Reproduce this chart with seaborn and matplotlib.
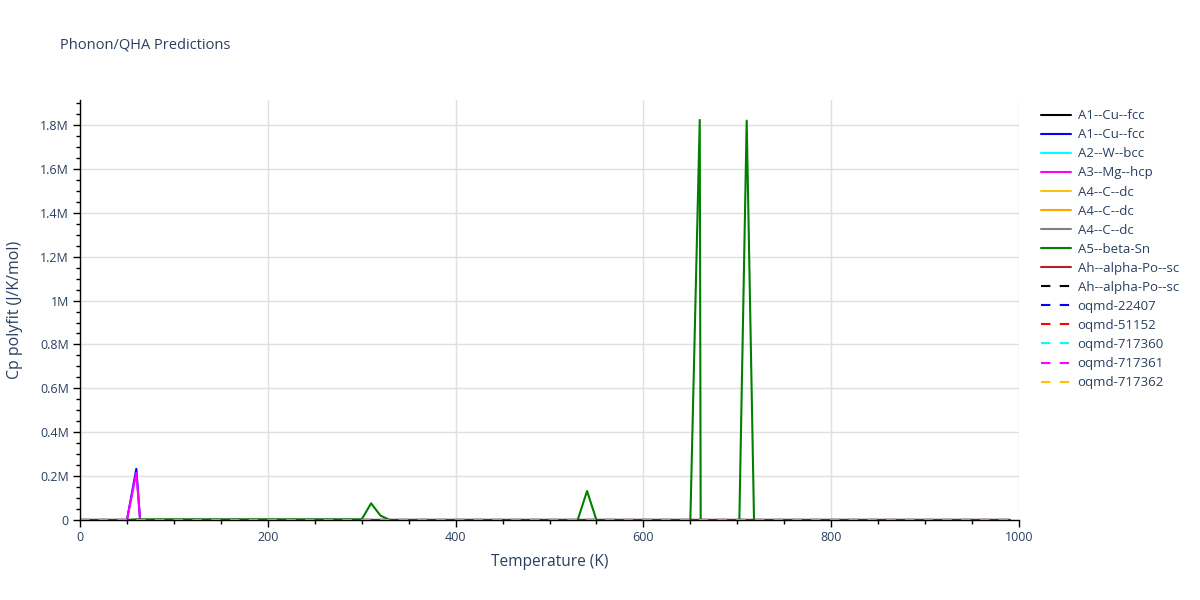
import numpy as np
import pandas as pd
import matplotlib
matplotlib.use("Agg")
import matplotlib.pyplot as plt
from matplotlib.ticker import FuncFormatter, MultipleLocator
import seaborn as sns

# ---------------- data ----------------
series_names = [
    "A1--Cu--fcc", "A1--Cu--fcc", "A2--W--bcc", "A3--Mg--hcp",
    "A4--C--dc", "A4--C--dc", "A4--C--dc", "A5--beta-Sn",
    "Ah--alpha-Po--sc", "Ah--alpha-Po--sc", "oqmd-22407", "oqmd-51152",
    "oqmd-717360", "oqmd-717361", "oqmd-717362",
]
series_colors = [
    "#000000", "#0000ff", "#00ffff", "#ff00ff",
    "#ffc107", "#ffa500", "#808080", "#008000",
    "#b22222", "#000000", "#0000ff", "#ff0000",
    "#00ffff", "#ff00ff", "#ffc107",
]
series_dashed = [False] * 9 + [True] * 6

# flat series (read as ~0 over the whole range)
flat_T = [0, 990]
flat_cp = [0, 0]

# A1--Cu--fcc (blue)
a1b_T = [0, 50, 60, 70, 80, 990]
a1b_cp = [0, 0, 233000, -350000, 0, 0]

# A3--Mg--hcp
a3_T = [0, 50, 60, 70, 80, 990]
a3_cp = [0, 0, 215000, -320000, 0, 0]

# A5--beta-Sn
a5_T = [0, 50, 60, 100, 200, 300, 310, 320, 330, 530, 540, 550,
        650, 660, 670, 680, 700, 710, 720, 730, 990]
a5_cp = [0, 0, 3000, 3000, 3000, 3000, 76000, 20000, 0, 0, 132000, 0,
         0, 1823000, -16400000, 0, -510000, 1820000, -510000, 0, 0]

series_T = [flat_T, a1b_T, flat_T, a3_T, flat_T, flat_T, flat_T, a5_T,
            flat_T, flat_T, flat_T, flat_T, flat_T, flat_T, flat_T]
series_cp = [flat_cp, a1b_cp, flat_cp, a3_cp, flat_cp, flat_cp, flat_cp, a5_cp,
             flat_cp, flat_cp, flat_cp, flat_cp, flat_cp, flat_cp, flat_cp]

x_range = (0, 1000)
y_range = (0, 1914000)

# ---------------- plot ----------------
sns.set_style("white")
plt.rcParams["font.family"] = ["Open Sans", "DejaVu Sans"]
text_color = "#2a3f5f"

fig = plt.figure(figsize=(12, 6), dpi=100)
ax = fig.add_axes([80 / 1200, 1 - 520 / 600, (1019 - 80) / 1200, 420 / 600])

for name, col, dashed, T, cp in zip(series_names, series_colors, series_dashed,
                                     series_T, series_cp):
    df = pd.DataFrame({"T": T, "Cp": cp})
    ls = (0, (4.5, 4.5)) if dashed else "-"
    sns.lineplot(data=df, x="T", y="Cp", ax=ax, color=col, linewidth=1.5,
                 linestyle=ls, label=name, sort=False, legend=False)

ax.set_xlim(*x_range)
ax.set_ylim(*y_range)

def fmt_m(v, pos):
    if abs(v) < 1e-9:
        return "0"
    return f"{v / 1e6:g}M"

ax.yaxis.set_major_formatter(FuncFormatter(fmt_m))
ax.xaxis.set_major_locator(MultipleLocator(200))
ax.xaxis.set_minor_locator(MultipleLocator(50))
ax.yaxis.set_major_locator(MultipleLocator(200000))
ax.yaxis.set_minor_locator(MultipleLocator(50000))

ax.grid(True, which="major", color="#e0e0e0", linewidth=1)
ax.set_axisbelow(True)
for s in ["top", "right"]:
    ax.spines[s].set_visible(False)
for s in ["left", "bottom"]:
    ax.spines[s].set_color("black")
    ax.spines[s].set_linewidth(1)
ax.tick_params(axis="both", which="major", direction="out", length=5, width=1,
               color="black", labelcolor=text_color, labelsize=9, pad=3,
               bottom=True, left=True)
ax.tick_params(axis="both", which="minor", direction="out", length=3, width=1,
               color="black", bottom=True, left=True)

ax.set_xlabel("Temperature (K)", fontsize=11.2, color=text_color, labelpad=7)
ax.set_ylabel("Cp polyfit (J/K/mol)", fontsize=11.4, color=text_color, labelpad=12)

fig.text(60 / 1200, 1 - 45 / 600, "Phonon/QHA Predictions", fontsize=10.5,
         color=text_color, va="center", ha="left")

handles, labels = ax.get_legend_handles_labels()
leg = fig.legend(handles, labels, loc="upper left",
                 bbox_to_anchor=(1036 / 1200, 1 - 104 / 600),
                 frameon=False, fontsize=9.5, handlelength=2.25,
                 handletextpad=0.5, labelspacing=0.46, borderaxespad=0)
for t in leg.get_texts():
    t.set_color(text_color)

fig.savefig("out.png", dpi=100, facecolor="white")
